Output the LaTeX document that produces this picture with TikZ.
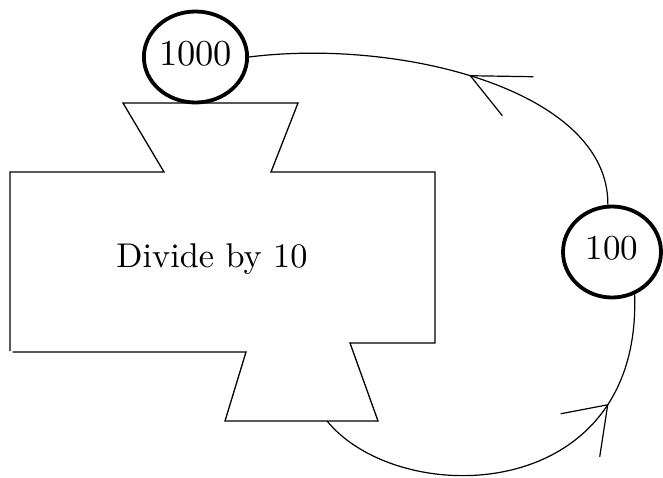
\documentclass[tikz,border=0pt]{standalone}
\usepackage{graphicx}
\usetikzlibrary{calc,shapes.geometric}
% text is set at 10pt (the wide optical size) and enlarged
\newcommand{\bigtext}[2]{\scalebox{#1}{#2}}
\begin{document}
\begin{tikzpicture}[x=1pt,y=-1pt,
  outline/.style={line width=1.3pt, line join=miter},
  flow/.style={line width=1.2pt},
  barb/.style={line width=1.2pt},
  counter/.style={ellipse, draw, line width=3.8pt, inner sep=0pt,
    minimum width=98pt, minimum height=91pt, text depth=8pt,
    font=\fontsize{10}{12}\selectfont}]
\useasboundingbox (0,0) rectangle (663,477);

% the divider: a box with an inlet funnel on top and an outlet funnel below
\draw[outline] (10,351) -- (10,172) -- (164,172) -- (123,103) -- (298,103)
  -- (271,172) -- (435,172) -- (435,343) -- (350,343) -- (378,421)
  -- (225,421) -- (246,352) -- (12.5,352);
\node[anchor=base, inner sep=0pt, font=\fontsize{10}{12}\selectfont] (label) at (212,267)
  {\bigtext{3.43}{Divide by 10}};
\coordinate (outlet) at (327,421);

% the two values
\node[counter] (thousand) at (195.5,57) {\bigtext{3.65}{1000}};
\node[counter] (hundred) at (612,252) {\bigtext{3.5}{100}};

% loop from the outlet up to 100
\draw[flow] (outlet) .. controls (400,510) and (642,505) .. (hundred.-62)
  coordinate[pos=0.78] (tipB);
\draw[barb] ($(tipB)+(-47,9)$) -- (tipB) -- ($(tipB)+(-8,52)$);

% loop from 100 back to 1000
\draw[flow] (thousand.east) .. controls (400,38) and (609,90) .. (hundred.95)
  coordinate[pos=0.465] (tipA);
\draw[barb] ($(tipA)+(63,1)$) -- (tipA) -- ($(tipA)+(32,40)$);
\end{tikzpicture}
\end{document}
